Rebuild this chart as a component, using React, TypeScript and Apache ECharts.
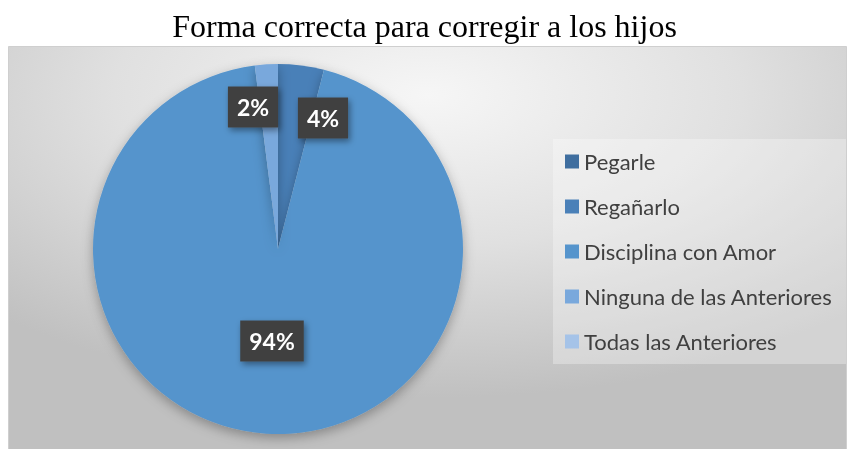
import React, { useEffect, useRef } from "react";
import * as echarts from "echarts";

const title = "Forma correcta para corregir a los hijos";
const categories = ["Pegarle", "Regañarlo", "Disciplina con Amor", "Ninguna de las Anteriores", "Todas las Anteriores"];
const values = [0, 4, 94, 2, 0];
const colors = ["#3F6E9F", "#4A80B8", "#5594CC", "#79A8DC", "#A5C3E8"];
// label box centres (layout only)
const labelSpots: Record<number, [number, number]> = { 1: [323, 118], 2: [272, 341], 3: [253, 107] };

export default function App() {
  const ref = useRef<HTMLDivElement>(null);
  useEffect(() => {
    if (!ref.current) return;
    const chart = echarts.init(ref.current, null, { renderer: "svg" });
    chart.setOption({
      animation: false,
      title: {
        text: title,
        left: "center",
        top: 5,
        textStyle: { fontFamily: "Liberation Serif", fontSize: 32, fontWeight: "normal", color: "#000" },
      },
      graphic: [
        {
          type: "rect",
          z: -10,
          silent: true,
          shape: { x: 8.5, y: 46.5, width: 838, height: 404 },
          style: {
            fill: new echarts.graphic.RadialGradient(0.5, 0.12, 0.75, [
              { offset: 0, color: "#f6f6f6" },
              { offset: 0.5, color: "#e0e0e0" },
              { offset: 1, color: "#c0c0c0" },
            ]),
            stroke: "#cfcfcf",
            lineWidth: 1,
          },
        },
        {
          type: "rect",
          z: -9,
          silent: true,
          shape: { x: 553, y: 139, width: 293, height: 225 },
          style: { fill: "rgba(255,255,255,0.3)" },
        },
      ],
      legend: {
        orient: "vertical",
        left: 553,
        top: 139,
        padding: [11, 11, 12, 12],
        itemWidth: 14,
        itemHeight: 14,
        itemGap: 22,
        selectedMode: false,
        icon: "rect",
        data: categories,
        textStyle: { fontFamily: "Lato", fontSize: 22, color: "#404040", lineHeight: 23 },
      },
      series: [
        {
          type: "pie",
          center: [278, 249],
          radius: 185,
          startAngle: 90,
          clockwise: true,
          emphasis: { disabled: true },
          itemStyle: { shadowBlur: 12, shadowColor: "rgba(0,0,0,0.3)", shadowOffsetY: 4 },
          label: {
            show: true,
            position: "inside",
            formatter: "{d}%",
            color: "#fff",
            fontFamily: "Lato",
            fontWeight: "bold",
            fontSize: 23,
            backgroundColor: "#404040",
            padding: [10, 9, 8, 9],
            shadowBlur: 6,
            shadowColor: "rgba(0,0,0,0.4)",
            shadowOffsetX: 2,
            shadowOffsetY: 3,
          },
          labelLine: { show: false },
          labelLayout: (p: any) => {
            const s = labelSpots[p.dataIndex];
            if (!s) return {};
            return { x: s[0], y: s[1], align: "center", verticalAlign: "middle" };
          },
          data: categories.map((c, i) => ({
            name: c,
            value: values[i],
            itemStyle: { color: colors[i] },
            label: { show: values[i] > 0 },
          })),
        },
      ],
    });
    return () => chart.dispose();
  }, []);
  return <div ref={ref} style={{ position: "fixed", left: 0, top: 0, width: 849, height: 449 }} />;
}
